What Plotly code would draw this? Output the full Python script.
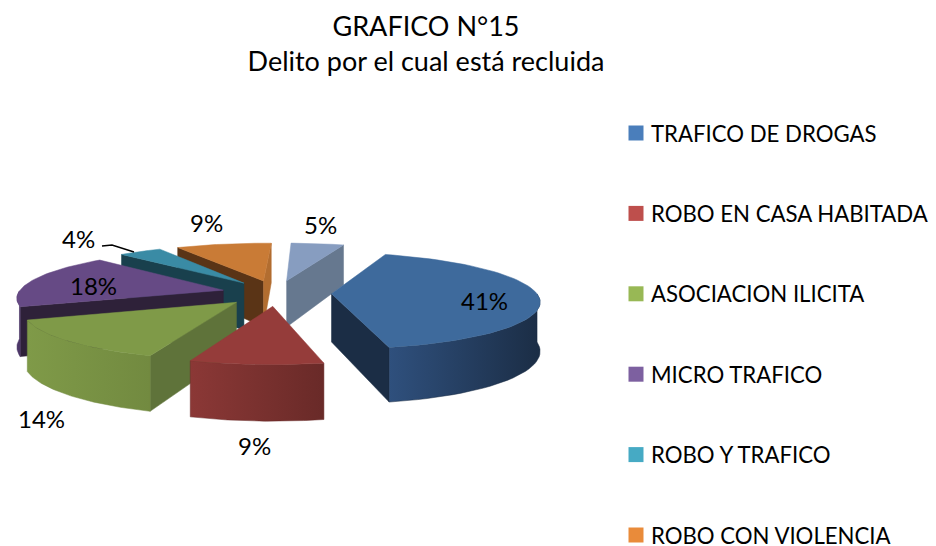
import numpy as np
import plotly.graph_objects as go

categories = [
    "TRAFICO DE DROGAS",
    "ROBO EN CASA HABITADA",
    "ASOCIACION ILICITA",
    "MICRO TRAFICO",
    "ROBO Y TRAFICO",
    "ROBO CON VIOLENCIA",
    "",  # seventh legend entry is cut off in the picture
]
values = [41, 9, 14, 18, 4, 9, 5]

legend_colors = ["#4A7EBB", "#BE4F4C", "#98B855", "#7D60A0", "#46AAC4", "#E98B3A", "#8FA8CC"]
top_colors = ["#3E6A9C", "#953C3A", "#7F9A48", "#664A85", "#3A8BA5", "#C97B36", "#879DC0"]
side_colors = ["#1B2D45", "#6B2A28", "#5F733A", "#2E2139", "#19404D", "#5A3416", "#66788F"]
end_colors = ["#1B2D45", "#6B2A28", "#5F733A", "#2E2139", "#19404D", "#B26D30", "#66788F"]
rim_left = ["#2F507D", "#8B3836", "#7F9A48", "#4C3768", "#2C6B80", "#B26D30", "#66788F"]
rim_right = ["#1B2D45", "#692A28", "#728A40", "#4C3768", "#2C6B80", "#B26D30", "#66788F"]

label_pos = [(484, 300), (254, 445), (41, 418), (93, 285), (78, 238), (206, 222), (320, 224)]
leader_x = [102, 112, 134]
leader_y = [246, 245, 252]

# fake 3d pie geometry, in pixels
CX, CY = 276.5, 293
R = 205
TILT = 48
PERSP = 0.14
DEPTH = 48
EXPLODE = 55
START = 20

# legend key placement
KEY_X = 636
KEY_TEXT_X = 649
KEY_TOP = 133
KEY_STEP = 80.4


def project(px_, py_, low=False):
    # px_, py_ are in the pie plane, py_ positive towards the viewer
    k = 1 + PERSP * py_ / R
    sx = CX + px_ * k
    sy = CY + py_ / R * TILT * k
    if low:
        sy = sy + DEPTH * k
    return sx, sy


def area(xs, ys):
    return sum(xs[i] * ys[(i + 1) % len(xs)] - xs[(i + 1) % len(xs)] * ys[i] for i in range(len(xs)))


def face(xs, ys, color=None, gradient=None):
    tr = go.Scatter(
        x=list(xs) + [xs[0]],
        y=list(ys) + [ys[0]],
        mode="lines",
        line=dict(width=0.5, color=color or gradient[1]),
        fill="toself",
        hoverinfo="skip",
        showlegend=False,
    )
    if gradient:
        tr.fillgradient = dict(type="horizontal", colorscale=[[0, gradient[0]], [1, gradient[1]]])
    else:
        tr.fillcolor = color
    return tr


fig = go.Figure()

total = sum(values)
slices = []
a0 = START
for i, v in enumerate(values):
    a1 = a0 + 360 * v / total
    slices.append((i, a0, a1))
    a0 = a1

# back slices first
mid = lambda s: np.radians((s[1] + s[2]) / 2)
for i, a0, a1 in sorted(slices, key=lambda s: np.cos(mid(s)), reverse=True):
    m = np.radians((a0 + a1) / 2)
    ox, oy = EXPLODE * np.sin(m), -EXPLODE * np.cos(m)
    th = np.radians(np.linspace(a0, a1, 60))
    px_ = ox + R * np.sin(th)
    py_ = oy - R * np.cos(th)

    ax, ay = project(ox, oy)
    alx, aly = project(ox, oy, low=True)
    tx, ty = project(px_, py_)
    bx, by = project(px_, py_, low=True)

    # radial walls, only those turned to the viewer
    wx = [ax, tx[0], bx[0], alx]
    wy = [ay, ty[0], by[0], aly]
    if area(wx, wy) < 0:
        fig.add_trace(face(wx, wy, color=side_colors[i]))
    wx = [ax, tx[-1], bx[-1], alx]
    wy = [ay, ty[-1], by[-1], aly]
    if area(wx, wy) > 0:
        fig.add_trace(face(wx, wy, color=end_colors[i]))

    # outer wall, front part only
    front = np.cos(th) < 0
    if front.sum() > 1:
        fx = np.concatenate([tx[front], bx[front][::-1]])
        fy = np.concatenate([ty[front], by[front][::-1]])
        fig.add_trace(face(fx, fy, gradient=(rim_left[i], rim_right[i])))

    # top
    fig.add_trace(face(np.r_[ax, tx], np.r_[ay, ty], color=top_colors[i]))

# legend key, the bottom entry sits too close to the edge for a plotly legend
for n, (name, color) in enumerate(zip(categories, legend_colors)):
    if name:
        fig.add_trace(
            go.Scatter(
                x=[KEY_X],
                y=[KEY_TOP + n * KEY_STEP],
                mode="markers",
                name=name,
                marker=dict(symbol="square", size=15, color=color),
                showlegend=False,
            )
        )
        fig.add_annotation(
            x=KEY_TEXT_X,
            y=KEY_TOP + n * KEY_STEP,
            text=name,
            showarrow=False,
            xanchor="left",
            font=dict(size=22.2, color="black"),
        )

fig.add_trace(
    go.Scatter(
        x=leader_x,
        y=leader_y,
        mode="lines",
        line=dict(color="black", width=1.5),
        hoverinfo="skip",
        showlegend=False,
    )
)

for v, (lx, ly) in zip(values, label_pos):
    fig.add_annotation(x=lx, y=ly, text=f"{v}%", showarrow=False, font=dict(size=24, color="black"))

fig.update_xaxes(visible=False, fixedrange=True, range=[0, 936])
fig.update_yaxes(visible=False, fixedrange=True, range=[546, 0])

fig.update_layout(
    width=936,
    height=546,
    title=dict(
        text="GRAFICO N°15<br>Delito por el cual está recluida",
        x=426 / 936,
        xanchor="center",
        y=1 - 36 / 546,
        yanchor="top",
        font=dict(size=27, color="black"),
    ),
    font=dict(family="Lato, 'Open Sans', sans-serif", color="black"),
    showlegend=False,
    paper_bgcolor="white",
    plot_bgcolor="white",
    margin=dict(t=0, l=0, b=0, r=0),
)

# the default page margin would push the figure out of the window
fig.write_html(
    "out.html",
    post_script="document.body.style.margin='0';",
    config=dict(displayModeBar=False),
)
